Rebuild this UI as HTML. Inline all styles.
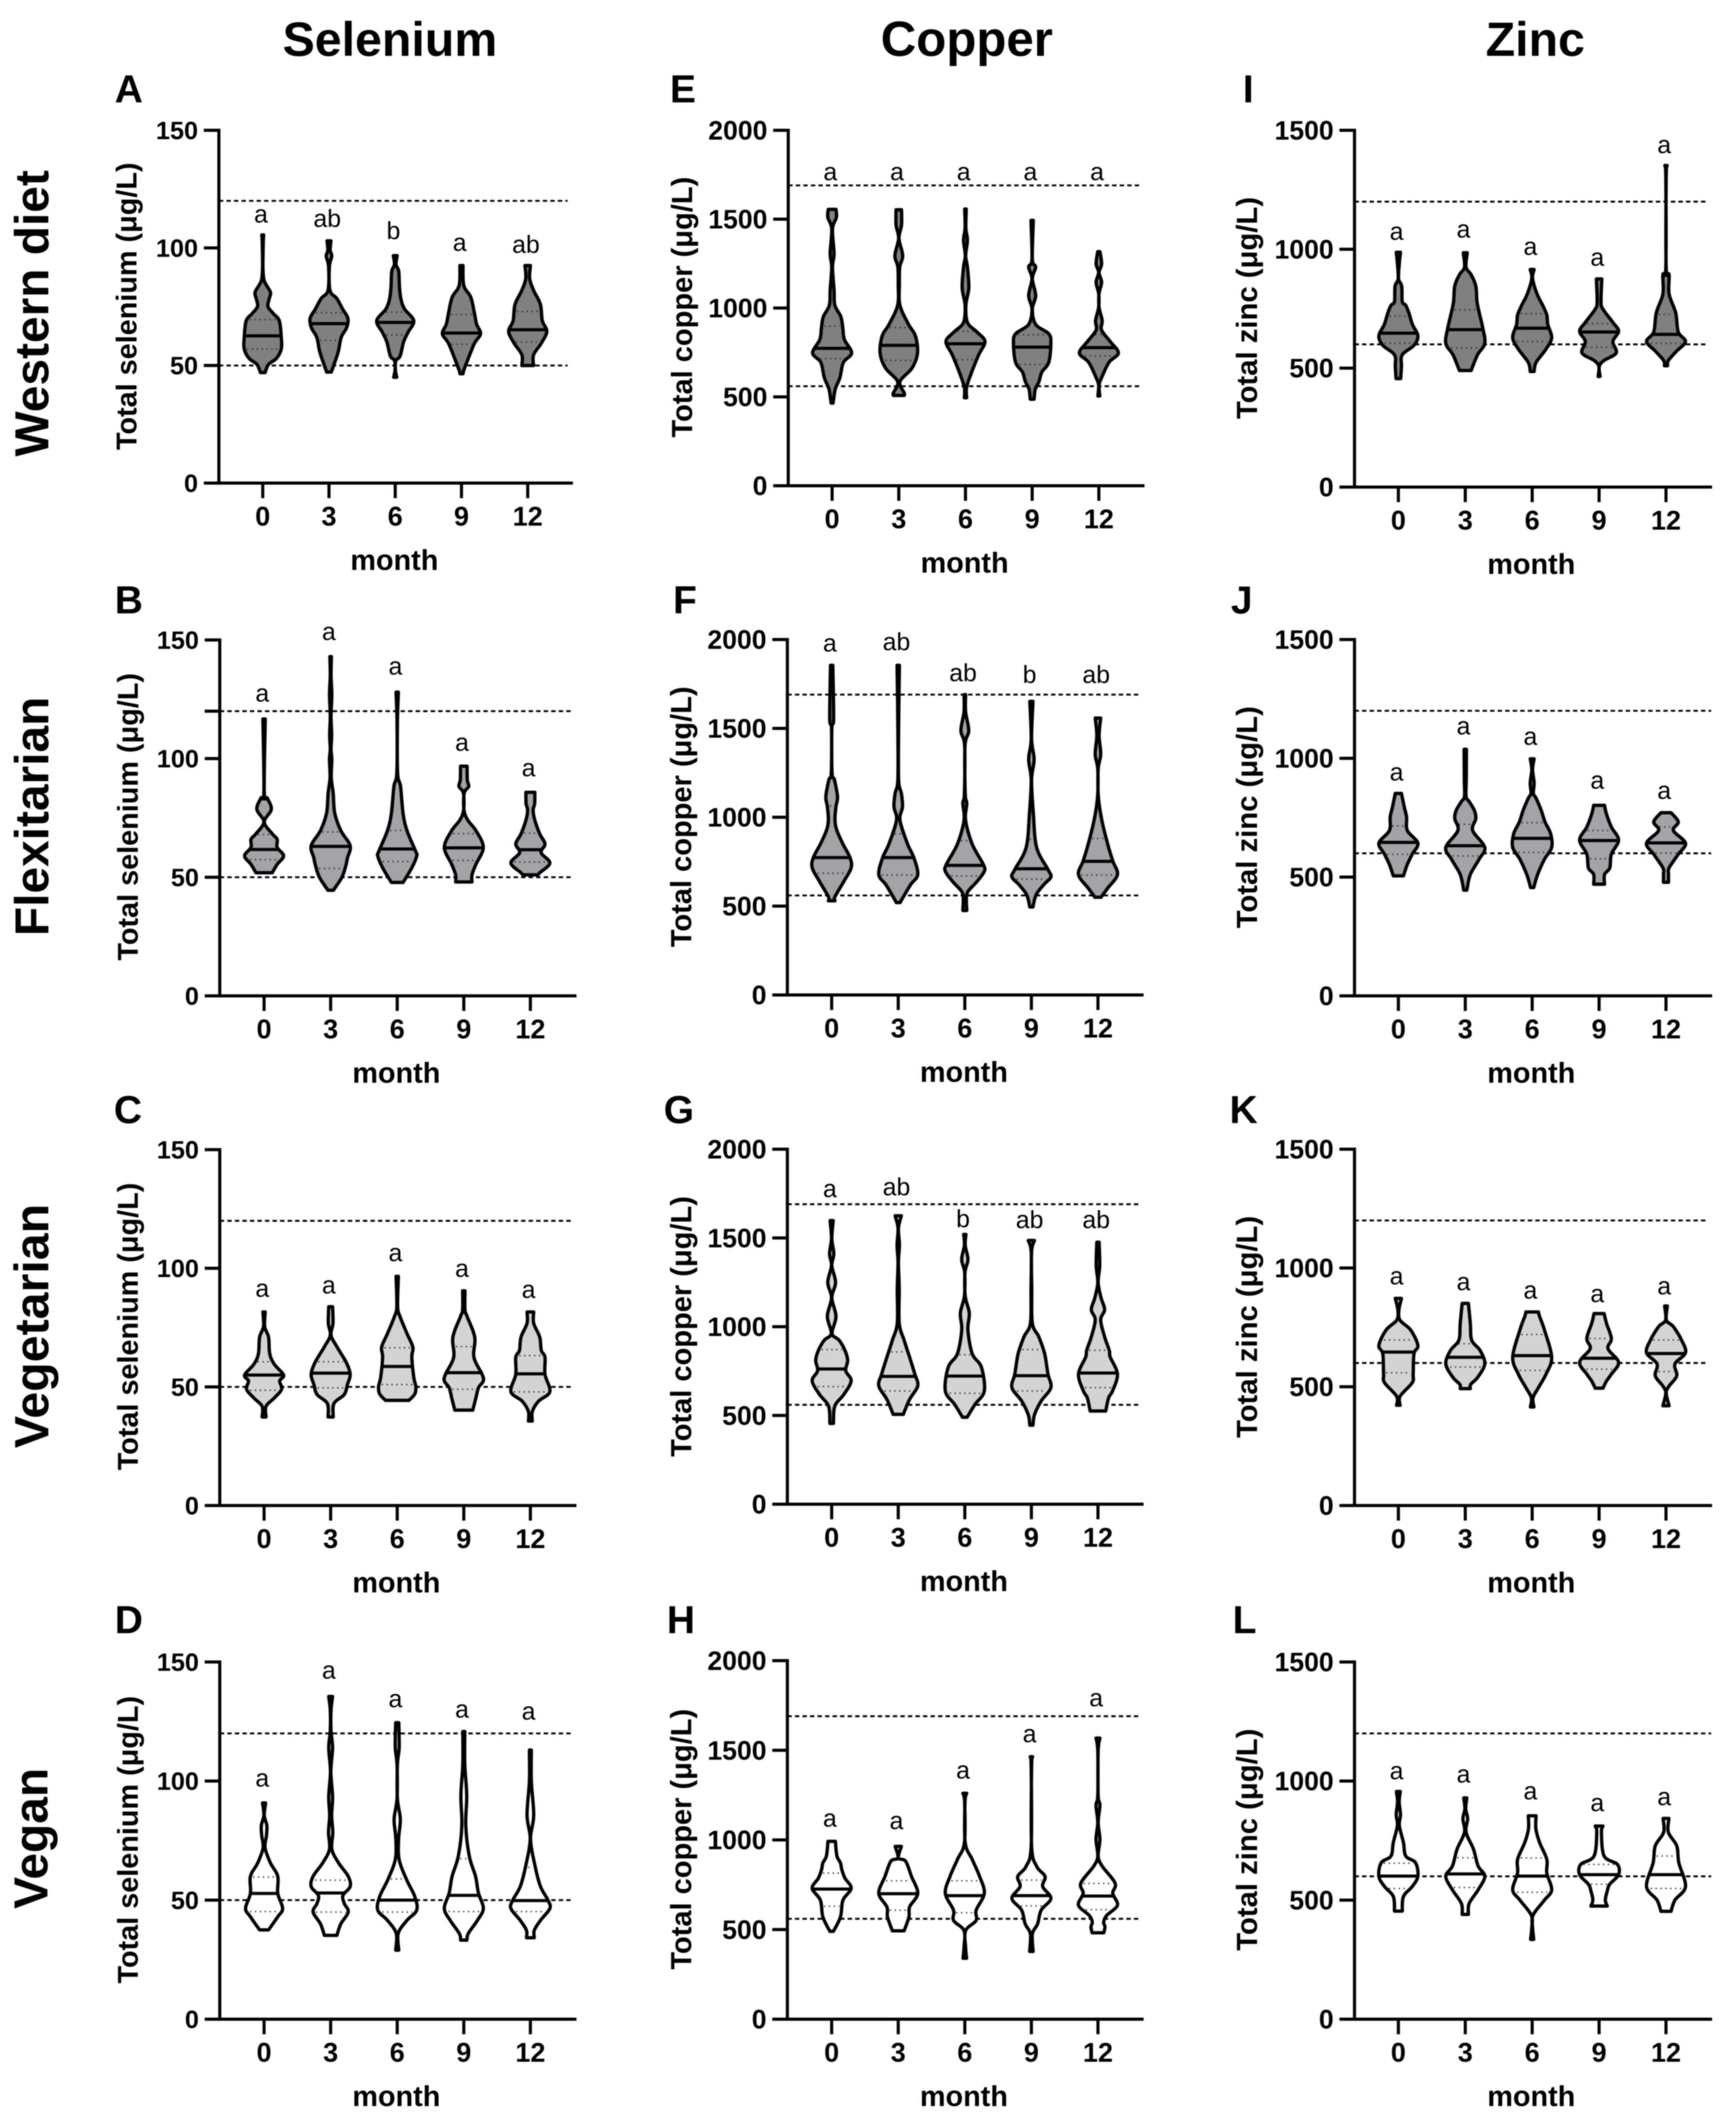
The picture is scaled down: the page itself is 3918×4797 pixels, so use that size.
<!DOCTYPE html>
<html lang="en">
<head>
<meta charset="utf-8">
<title>Selenium, copper and zinc violin plots by diet group</title>
<style>
  html,body{margin:0;padding:0;background:#fff;}
  svg{display:block;filter:blur(1px);}
  text{font-family:"Liberation Sans",Arial,sans-serif;fill:#000;}
</style>
</head>
<body>
<svg id="figure" xmlns="http://www.w3.org/2000/svg" width="3918" height="4797" viewBox="0 0 3918 4797">
  <rect x="0" y="0" width="3918" height="4797" fill="#ffffff"/>
  <text x="880" y="126" font-size="109" font-weight="700" text-anchor="middle">Selenium</text>
  <text x="2182" y="126" font-size="111" font-weight="700" text-anchor="middle">Copper</text>
  <text x="3465" y="126" font-size="109" font-weight="700" text-anchor="middle">Zinc</text>
  <text transform="translate(109 707) rotate(-90)" font-size="108" font-weight="700" text-anchor="middle">Western diet</text>
  <text transform="translate(109 1842) rotate(-90)" font-size="108" font-weight="700" text-anchor="middle">Flexitarian</text>
  <text transform="translate(109 2992) rotate(-90)" font-size="109" font-weight="700" text-anchor="middle">Vegetarian</text>
  <text transform="translate(107 4148) rotate(-90)" font-size="108" font-weight="700" text-anchor="middle">Vegan</text>
</svg>
<script>
// ---------- shared data ----------
const months = [0, 3, 6, 9, 12];
const seleniumTicks = [0, 50, 100, 150];
const copperTicks = [0, 500, 1000, 1500, 2000];
const zincTicks = [0, 500, 1000, 1500];
const seleniumRefs = [50, 120];
const copperRefs = [560, 1690];
const zincRefs = [600, 1200];

// Each violin outline: [value, density] pairs, top to bottom.
// ---------- Panel A ----------
const A_outlines = [
  [[105.5,.5],[103,.3],[92,.1],[86.5,.6],[84,2],[81,4],[78,3.2],[75,2.7],[72,5.5],[69,8.5],[62,9.5],[57,9.5],[53,7],[50.5,3],[47,1.2]],
  [[103,1],[99,.6],[96.5,1.4],[92,.2],[82,.5],[78.5,4],[74,7],[70,9.7],[66,9],[62,6.3],[56,4.8],[51,2.8],[47.2,1.2]],
  [[96.7,1],[93,.4],[90,1.8],[83,2.2],[78,3],[74,4.8],[69,9.5],[64,6.5],[60,4.3],[54,2.5],[52,.3],[48,.1],[45,.8]],
  [[92.5,.8],[84,1.2],[79,4.8],[72,6.7],[67.5,7.8],[63.5,9.8],[59.5,6.7],[53,3.5],[48,1.2],[46.5,.8]],
  [[92.5,1.4],[87,1],[82,3],[76,6.5],[69,7.5],[64.5,9.8],[59.5,7],[54.5,3],[50,3]]
];
const A_medians = [62.6, 67.8, 68.3, 63.8, 65.2];
const A_q1 = [57, 60.7, 63, 59, 60];
const A_q3 = [69.5, 72.4, 72.7, 71.7, 73];
const A_letters = ['a', 'ab', 'b', 'a', 'ab'];
const A_letterValues = [110.8, 108.9, 103.7, 98.7, 97.9];

// ---------- Panel B ----------
const B_outlines = [
  [[116.7,.6],[86,.1],[83.3,1.7],[78.6,3.7],[73.3,.1],[68.3,4.2],[66,6.7],[62.6,6.7],[59,10],[55.4,6.7],[51.9,4.2]],
  [[143,.4],[135,.2],[127,.6],[118,.2],[110,.5],[104,.2],[99.7,.6],[92,.3],[85.4,1.3],[77,2.1],[69.7,5.2],[63.3,10],[58.3,8.7],[54,7.5],[49.7,5.6],[44.5,1.4]],
  [[128,.6],[115,.1],[94,.2],[88.3,1.7],[76.9,3],[69.7,5],[61,9.4],[59,10],[54,7.5],[47.8,3]],
  [[96.8,1.7],[91,1.8],[88.3,2.5],[85.4,.2],[78.3,.1],[74,2.1],[69.7,6.2],[62.6,10],[55.4,6.2],[51,4.2],[48,4.2]],
  [[85.8,2.3],[81,2.2],[78.3,1.4],[74,2.3],[68.3,4.8],[64,7.5],[60.4,5.5],[56,10],[52,5],[51,3.8]]
];
const B_medians = [61.7, 63, 61.9, 62.4, 61.6];
const B_q1 = [57.4, 53.7, 56.6, 57.1, 56.4];
const B_q3 = [68, 69.1, 69.7, 68.4, 68.6];
const B_letters = ['a', 'a', 'a', 'a', 'a'];
const B_letterValues = [124, 150, 135.4, 103.3, 92.6];

// ---------- Panel C ----------
const C_outlines = [
  [[81.6,.6],[75.4,.3],[71,2.3],[64,2.9],[59.6,5.2],[55,10],[52.5,8],[49,9],[45.3,5.2],[41.8,1],[37.3,1]],
  [[83.8,1],[76.8,1.2],[71.8,.2],[66.8,3.3],[60.3,8],[55.3,10],[51,8.6],[46.8,7],[43,1.7],[37.3,1.3]],
  [[96.6,.6],[84,.2],[79.7,1.4],[72.5,5],[66.8,8],[62.5,7.5],[54,8.5],[50,9.6],[47,9],[44.3,6]],
  [[90.5,.6],[82.5,.6],[79.7,1.7],[71,5.6],[62.5,5.2],[55.3,9.4],[52.5,10],[49.6,7.5],[45.3,6.2],[40.2,4.6]],
  [[81.6,1.7],[76.8,1.7],[71,4.8],[65.4,5.6],[62.5,7.5],[55.3,7.5],[48,10],[44,4.2],[39.6,1],[35.6,1]]
];
const C_medians = [55, 55.8, 58.6, 56, 55.5];
const C_q1 = [48.6, 49.6, 51, 49, 47.9];
const C_q3 = [60.6, 60.6, 66.5, 67, 63.2];
const C_letters = ['a', 'a', 'a', 'a', 'a'];
const C_letterValues = [88, 89.4, 103, 96.4, 87.5];

// ---------- Panel D ----------
const D_outlines = [
  [[90.8,.8],[85.6,.1],[81.3,1.4],[77,1.2],[72,.5],[65.7,3.2],[60,7],[52.9,7],[46.5,9.5],[43,7],[37.5,2.3]],
  [[135.5,1],[129.7,.2],[121,.2],[114,1],[104,.1],[93.4,1],[85.6,.5],[78.5,1.1],[71.4,.6],[65.7,4],[60,9],[55.7,10],[52,6.3],[48.6,7],[45,9],[40,5.2],[35.2,3.2]],
  [[124.5,.8],[114,1],[107,.1],[92.7,.1],[84,1.6],[75.6,.7],[67,1],[58.6,4.8],[51.5,9],[45.8,10],[41.5,5],[36,.5],[29,.8]],
  [[120.8,.5],[107,.5],[94,1.5],[81.3,1],[68.5,2.8],[60,6],[53,7.5],[46.5,10],[41.5,7],[36,2.3],[33.2,1.6]],
  [[113,.5],[100,.5],[85.6,1.7],[75.6,.1],[64.3,2.4],[55.7,5.2],[50,9],[46.5,10],[41.5,5.2],[37.3,2],[34.2,2]]
];
const D_medians = [52.8, 53, 50, 52, 49.8];
const D_q1 = [45.2, 45, 45, 45.2, 45.2];
const D_q3 = [59.7, 58.4, 58.9, 67.4, 63.8];
const D_letters = ['a', 'a', 'a', 'a', 'a'];
const D_letterValues = [97.7, 143, 131, 126.6, 125.8];

// ---------- Panel E ----------
const E_outlines = [
  [[1555,2],[1510,2.2],[1445,.2],[1306,1],[1231,.2],[1102,1],[1016,1.4],[951,4.5],[887,5.5],[823,6.3],[747,10],[694,5.8],[608,4],[543,1.6],[465,.5]],
  [[1553,1.4],[1467,1.4],[1392,.1],[1295,2],[1231,.5],[1134,.3],[1016,.6],[908,5],[844,8.5],[747,9.6],[662,6.8],[586,.6],[522,2.8],[508,2.8]],
  [[1557,.4],[1450,.2],[1381,1],[1295,.1],[1231,1],[1113,1.7],[1016,.2],[919,1],[866,5.8],[812,10],[737,6.8],[640,3.2],[554,.6],[495,.6]],
  [[1493,.6],[1274,.1],[1231,1.8],[1166,.1],[1070,1.8],[995,.1],[908,1.8],[855,8.5],[801,9.6],[694,8.5],[640,5],[586,3.5],[543,1.6],[487,1]],
  [[1317,.6],[1248,1.4],[1200,.1],[1145,1.4],[1080,.1],[1005,.1],[930,1.7],[876,1.4],[812,5.8],[747,10],[694,5.2],[608,1.4],[565,.1],[505,.5]]
];
const E_medians = [773, 790, 799, 780, 777];
const E_q1 = [715, 705, 709, 683, 730];
const E_q3 = [898, 890, 870, 850, 850];
const E_letters = ['a', 'a', 'a', 'a', 'a'];
const E_letterValues = [1720, 1720, 1720, 1720, 1720];

// ---------- Panel F ----------
const F_outlines = [
  [[1855,.6],[1555,1],[1500,.1],[1250,.2],[1212,1.4],[1116,3],[1059,2.2],[983,1.7],[925,2.7],[849,5.8],[773,9.4],[716,10],[640,6.3],[553,1.7],[530,1.7]],
  [[1855,.6],[1500,.2],[1212,.2],[1135,1.6],[1059,2.2],[983,.9],[849,4.8],[773,8],[677,10],[620,6.3],[544,2.2],[520,1]],
  [[1690,.4],[1593,.4],[1488,2],[1402,.1],[1135,.2],[1078,1],[983,.4],[849,3.8],[734,9.5],[696,10],[639,6.3],[582,1.6],[540,.8],[475,1]],
  [[1652,.8],[1440,.1],[1326,1.4],[1211,.1],[1021,1],[830,2.7],[706,8.5],[664,10],[620,6.3],[563,2.4],[495,.8]],
  [[1558,1.4],[1460,.6],[1355,1.4],[1269,.1],[1116,.2],[983,2],[849,5],[754,7.6],[677,10],[601,5],[550,1.6]]
];
const F_medians = [773, 773, 729, 710, 752];
const F_q1 = [685, 675, 670, 652, 675];
const F_q3 = [1063, 906, 868, 876, 881];
const F_letters = ['a', 'ab', 'ab', 'b', 'ab'];
const F_letterValues = [1933, 1940, 1765, 1755, 1755];

// ---------- Panel G ----------
const G_outlines = [
  [[1598,.8],[1497,.1],[1411,1.1],[1344,.1],[1249,2],[1163,.1],[1058,2.2],[962,.2],[924,3.8],[867,6.8],[810,8.2],[752,7.2],[695,10],[619,6.3],[552,1.6],[455,.9]],
  [[1625,1.6],[1555,.1],[1459,.6],[1364,.1],[1211,.5],[1020,.5],[924,3],[829,5.8],[733,8.5],[667,10],[590,5.8],[506,2.6]],
  [[1520,.6],[1459,.2],[1379,1.6],[1306,.1],[1173,.2],[1077,2.3],[982,1.6],[848,3.8],[772,8.5],[638,10],[562,5.2],[490,1.2]],
  [[1486,1.6],[1421,.1],[1211,.2],[1020,.5],[943,3.8],[848,6.8],[733,8.5],[657,10],[581,5],[504,1.6],[445,.8]],
  [[1476,.6],[1344,.9],[1249,.1],[1163,1.6],[1096,3.4],[1039,1.4],[943,3.4],[867,5.8],[829,6.3],[733,10],[638,7.5],[600,5.5],[525,4]]
];
const G_medians = [762, 720, 722, 724, 739];
const G_q1 = [663, 638, 625, 638, 657];
const G_q3 = [871, 858, 842, 871, 867];
const G_letters = ['a', 'ab', 'b', 'ab', 'ab'];
const G_letterValues = [1730, 1740, 1560, 1555, 1555];

// ---------- Panel H ----------
const H_outlines = [
  [[992,1.9],[910,2.7],[872,4.5],[834,5.2],[787,6.8],[730,10],[664,5.8],[570,4.5],[490,.9]],
  [[964,1.6],[900,.1],[881,3.8],[796,6.8],[702,10],[626,5.8],[570,5.5],[493,3]],
  [[1260,1],[1211,.1],[985,.2],[891,3.8],[796,7.6],[702,10],[608,5.8],[551,5.8],[494,.4],[400,.4],[340,.9]],
  [[1464,.6],[1400,.1],[966,.1],[853,2.7],[796,7],[740,5.8],[674,10],[608,5],[532,3.2],[475,.5],[378,.9]],
  [[1568,1],[1495,.1],[1249,.1],[1193,1],[1098,.1],[1004,1],[910,.1],[853,2.2],[759,8.8],[702,7.6],[636,10],[579,4.5],[542,2.9],[515,3.6],[482,3]]
];
const H_medians = [726, 700, 689, 689, 687];
const H_q1 = [630, 608, 594, 632, 611];
const H_q3 = [815, 772, 772, 776, 757];
const H_letters = ['a', 'a', 'a', 'a', 'a'];
const H_letterValues = [1074, 1060, 1343, 1545, 1745];

// ---------- Panel I ----------
const I_outlines = [
  [[987,1.1],[950,.6],[877,.1],[845,1.7],[780,2],[764,3.8],[732,5.4],[684,7.2],[636,10],[596,8],[556,2],[507,1.6],[456,1.2]],
  [[985,1],[925,.4],[893,3],[845,5.4],[780,6],[732,7.2],[668,9],[604,10],[556,6.3],[490,3]],
  [[915,1],[877,.2],[812,2.5],[764,5.4],[724,7.5],[684,8],[628,10],[580,7.1],[524,2],[486,1]],
  [[875,1.4],[780,1],[748,2],[692,7.1],[655,10],[612,7.1],[564,8.8],[532,2.5],[507,.1],[465,.5]],
  [[1352,.6],[1300,.1],[925,.1],[893,1.6],[812,1.6],[732,5],[652,6.3],[612,10],[572,5.5],[532,1.2],[510,.8]]
];
const I_medians = [647, 662, 668, 652, 642];
const I_q1 = [605, 585, 612, 588, 604];
const I_q3 = [719, 745, 729, 687, 726];
const I_letters = ['a', 'a', 'a', 'a', 'a'];
const I_letterValues = [1040, 1049, 976, 931, 1404];

// ---------- Panel J ----------
const J_outlines = [
  [[852,1.6],[796,3],[753,4.2],[696,4.6],[643,10],[596,7.1],[553,4.6],[505,2.6]],
  [[1038,.6],[910,.5],[840,.4],[818,2],[782,4.6],[746,5.4],[696,3.8],[625,10],[575,7.1],[511,2.6],[445,.8]],
  [[998,1],[953,.2],[896,1],[853,.6],[832,2],[782,4.6],[732,6.6],[682,9.5],[625,10],[575,6.3],[511,2.8],[456,.8]],
  [[802,2.8],[768,3.7],[711,6.3],[656,10],[596,6.3],[539,5.5],[511,2.8],[470,2.8]],
  [[771,2.6],[732,6.3],[696,3.8],[643,10],[596,6.3],[539,1.6],[511,1.3],[478,1.3]]
];
const J_medians = [646, 632, 663, 654, 644];
const J_q1 = [596, 589, 604, 577, 601];
const J_q3 = [715, 722, 729, 696, 711];
const J_letters = ['a', 'a', 'a', 'a', 'a'];
const J_letterValues = [907, 1101, 1057, 872, 829];

// ---------- Panel K ----------
const K_outlines = [
  [[872,1.6],[824,.3],[781,.8],[739,6.3],[674,10],[639,8],[553,7.6],[517,7.1],[460,.9],[422,.9]],
  [[851,1.6],[767,2.6],[696,3.3],[653,7.6],[596,10],[539,6.3],[510,2.8],[492,2.6]],
  [[815,3.2],[796,3.8],[739,6.3],[624,10],[553,7.1],[496,3.2],[453,.4],[415,.9]],
  [[808,2.6],[767,3.8],[703,6.3],[660,4.6],[603,10],[553,6.3],[524,3.8],[494,2]],
  [[840,.7],[781,.2],[753,3.8],[696,8],[643,10],[596,4.6],[546,5.5],[503,1.6],[474,.1],[420,1.6]]
];
const K_medians = [646, 624, 631, 620, 640];
const K_q1 = [559, 583, 569, 574, 564];
const K_q3 = [697, 681, 720, 703, 697];
const K_letters = ['a', 'a', 'a', 'a', 'a'];
const K_letterValues = [931, 907, 871, 856, 889];

// ---------- Panel L ----------
const L_outlines = [
  [[956,1],[913,.4],[859,1.1],[813,.5],[742,2.6],[685,3.8],[657,8.8],[600,10],[557,7.1],[515,2.6],[454,2]],
  [[929,.8],[884,.2],[842,1.2],[785,.4],[714,4.2],[643,6.6],[600,10],[543,6.6],[486,2],[440,1.6]],
  [[854,2],[799,1.9],[742,3.8],[671,7.5],[614,7.5],[543,10],[500,6.3],[436,.4],[385,.2],[335,.8]],
  [[811,2],[785,1.2],[685,2.6],[650,9.4],[607,10],[567,5.5],[539,4.2],[500,3.2],[475,4.2]],
  [[843,1.5],[785,1.2],[728,5.5],[657,6.6],[557,10],[500,4.6],[453,2.6]]
];
const L_medians = [601, 610, 601, 607, 607];
const L_q1 = [549, 553, 533, 567, 549];
const L_q3 = [655, 678, 677, 650, 685];
const L_letters = ['a', 'a', 'a', 'a', 'a'];
const L_letterValues = [1008, 994, 923, 874, 899];

// ---------- layout (geometry only) ----------
const ROW_FILLS = ['#808080', '#a3a3a6', '#d3d3d3', '#ffffff'];
const COLUMN_STYLE = [
  { title: 'Total selenium (\u03bcg/L)', ticks: seleniumTicks, refs: seleniumRefs, tickFont: 57, titleFont: 65 },
  { title: 'Total copper (\u03bcg/L)', ticks: copperTicks, refs: copperRefs, tickFont: 60, titleFont: 65.5 },
  { title: 'Total zinc (\u03bcg/L)', ticks: zincTicks, refs: zincRefs, tickFont: 60, titleFont: 66 }
];
const PANELS = [
  { id:'A', col:0, row:0, outlines:A_outlines, med:A_medians, q1:A_q1, q3:A_q3, letters:A_letters, lv:A_letterValues, ax:494, xA:593, xB:1191, xEnd:1293, top:294, zero:1090, refEnd:1281, tx:308, ty:691, lx:259, ly:231 },
  { id:'B', col:0, row:1, outlines:B_outlines, med:B_medians, q1:B_q1, q3:B_q3, letters:B_letters, lv:B_letterValues, ax:496, xA:596, xB:1197, xEnd:1301, top:1444, zero:2247, refEnd:1290, tx:311, ty:1843, lx:259, ly:1384, stubTick:120 },
  { id:'C', col:0, row:2, outlines:C_outlines, med:C_medians, q1:C_q1, q3:C_q3, letters:C_letters, lv:C_letterValues, ax:496, xA:596, xB:1197, xEnd:1301, top:2594, zero:3397, refEnd:1290, tx:311, ty:2993, lx:257, ly:2534 },
  { id:'D', col:0, row:3, outlines:D_outlines, med:D_medians, q1:D_q1, q3:D_q3, letters:D_letters, lv:D_letterValues, ax:496, xA:596, xB:1197, xEnd:1301, top:3750, zero:4556, refEnd:1290, tx:311, ty:4151, lx:259, ly:3685 },
  { id:'E', col:1, row:0, outlines:E_outlines, med:E_medians, q1:E_q1, q3:E_q3, letters:E_letters, lv:E_letterValues, ax:1779, xA:1878, xB:2480, xEnd:2583, top:294, zero:1096, refEnd:2571, tx:1562, ty:693, lx:1512, ly:231 },
  { id:'F', col:1, row:1, outlines:F_outlines, med:F_medians, q1:F_q1, q3:F_q3, letters:F_letters, lv:F_letterValues, ax:1777, xA:1877, xB:2478, xEnd:2581, top:1443, zero:2245, refEnd:2569, tx:1560, ty:1843, lx:1519, ly:1384 },
  { id:'G', col:1, row:2, outlines:G_outlines, med:G_medians, q1:G_q1, q3:G_q3, letters:G_letters, lv:G_letterValues, ax:1777, xA:1877, xB:2478, xEnd:2581, top:2593, zero:3394, refEnd:2569, tx:1560, ty:2993, lx:1498, ly:2534 },
  { id:'H', col:1, row:3, outlines:H_outlines, med:H_medians, q1:H_q1, q3:H_q3, letters:H_letters, lv:H_letterValues, ax:1777, xA:1877, xB:2478, xEnd:2581, top:3747, zero:4556, refEnd:2569, tx:1560, ty:4150, lx:1505, ly:3685 },
  { id:'I', col:2, row:0, outlines:I_outlines, med:I_medians, q1:I_q1, q3:I_q3, letters:I_letters, lv:I_letterValues, ax:3057, xA:3156, xB:3760, xEnd:3864, top:294, zero:1099, refEnd:3851, tx:2837, ty:695, lx:2805, ly:231 },
  { id:'J', col:2, row:1, outlines:J_outlines, med:J_medians, q1:J_q1, q3:J_q3, letters:J_letters, lv:J_letterValues, ax:3057, xA:3156, xB:3760, xEnd:3864, top:1443, zero:2247, refEnd:3862, tx:2837, ty:1844, lx:2778, ly:1384 },
  { id:'K', col:2, row:2, outlines:K_outlines, med:K_medians, q1:K_q1, q3:K_q3, letters:K_letters, lv:K_letterValues, ax:3057, xA:3156, xB:3760, xEnd:3864, top:2593, zero:3397, refEnd:3851, tx:2837, ty:2994, lx:2775, ly:2534 },
  { id:'L', col:2, row:3, outlines:L_outlines, med:L_medians, q1:L_q1, q3:L_q3, letters:L_letters, lv:L_letterValues, ax:3057, xA:3156, xB:3760, xEnd:3864, top:3750, zero:4556, refEnd:3862, tx:2837, ty:4151, lx:2782, ly:3685 }
];

const SVG_NS = 'http://www.w3.org/2000/svg';
const figure = document.getElementById('figure');
const DENSITY_PX = 4.4;
const TICK_LEN = 34;
const AXIS_W = 7;
const VIOLIN_W = 7.5;
const MEDIAN_W = 7;
const X_TICK_FONT = 61;
const X_TITLE_FONT = 65;

function addLine(parent, x1, y1, x2, y2, width, dash, color) {
  const l = document.createElementNS(SVG_NS, 'line');
  l.setAttribute('x1', x1);
  l.setAttribute('y1', y1);
  l.setAttribute('x2', x2);
  l.setAttribute('y2', y2);
  l.setAttribute('stroke', color || '#000');
  l.setAttribute('stroke-width', width);
  if (dash) l.setAttribute('stroke-dasharray', dash);
  parent.appendChild(l);
  return l;
}
function addText(parent, str, x, y, size, weight, anchor) {
  const t = document.createElementNS(SVG_NS, 'text');
  t.setAttribute('x', x);
  t.setAttribute('y', y);
  t.setAttribute('font-size', size);
  t.setAttribute('font-weight', weight);
  t.setAttribute('text-anchor', anchor);
  t.textContent = str;
  parent.appendChild(t);
  return t;
}
function densityAt(profile, v) {
  for (let i = 0; i < profile.length - 1; i++) {
    const a = profile[i], b = profile[i + 1];
    if (v <= a[0] && v >= b[0]) {
      const f = (a[0] - v) / (a[0] - b[0] || 1);
      return a[1] + (b[1] - a[1]) * f;
    }
  }
  return 0;
}
function smoothSide(pts) {
  let d = '';
  for (let i = 0; i < pts.length - 1; i++) {
    const p0 = pts[i - 1] || pts[i], p1 = pts[i], p2 = pts[i + 1], p3 = pts[i + 2] || p2;
    const c1x = p1[0] + (p2[0] - p0[0]) / 6, c1y = p1[1] + (p2[1] - p0[1]) / 6;
    const c2x = p2[0] - (p3[0] - p1[0]) / 6, c2y = p2[1] - (p3[1] - p1[1]) / 6;
    d += ' C' + c1x.toFixed(1) + ' ' + c1y.toFixed(1) + ' ' + c2x.toFixed(1) + ' ' + c2y.toFixed(1) + ' ' + p2[0].toFixed(1) + ' ' + p2[1].toFixed(1);
  }
  return d;
}

PANELS.forEach(function (p) {
  const key = p.id.toLowerCase();
  const style = COLUMN_STYLE[p.col];
  const maxV = style.ticks[style.ticks.length - 1];
  const yScale = function (v) { return p.zero - (v / maxV) * (p.zero - p.top); };
  const xScale = function (m) { return p.xA + (m / months[months.length - 1]) * (p.xB - p.xA); };
  const rowFill = ROW_FILLS[p.row];

  const g = document.createElementNS(SVG_NS, 'g');
  
  
  figure.appendChild(g);

  const panelLetter = addText(g, p.id, p.lx, p.ly, 88, 700, 'start');
  
  

  const yTitle = addText(g, style.title, 0, 0, style.titleFont, 700, 'middle');
  yTitle.setAttribute('transform', 'translate(' + p.tx + ' ' + p.ty + ') rotate(-90)');
  
  

  style.refs.forEach(function (r) {
    const ref = addLine(g, p.ax, yScale(r), p.refEnd, yScale(r), 4.2, '10 7');
    
    
  });

  p.outlines.forEach(function (profile, i) {
    const cx = xScale(months[i]);
    const right = profile.map(function (q) { return [cx + q[1] * DENSITY_PX, yScale(q[0])]; });
    const left = profile.map(function (q) { return [cx - q[1] * DENSITY_PX, yScale(q[0])]; }).reverse();
    let d = 'M' + right[0][0].toFixed(1) + ' ' + right[0][1].toFixed(1) + smoothSide(right);
    d += ' L' + left[0][0].toFixed(1) + ' ' + left[0][1].toFixed(1) + smoothSide(left) + ' Z';

    const shape = document.createElementNS(SVG_NS, 'path');
    shape.setAttribute('d', d);
    shape.setAttribute('fill', rowFill);
    shape.setAttribute('stroke', '#000');
    shape.setAttribute('stroke-width', VIOLIN_W);
    shape.setAttribute('stroke-linejoin', 'round');
    
    
    g.appendChild(shape);

    const hwQ3 = densityAt(profile, p.q3[i]) * DENSITY_PX;
    const q3Line = addLine(g, cx - hwQ3 + 6, yScale(p.q3[i]), cx + hwQ3 - 6, yScale(p.q3[i]), 3, '3 8', '#2b2b2b');
    
    

    const hwQ1 = densityAt(profile, p.q1[i]) * DENSITY_PX;
    const q1Line = addLine(g, cx - hwQ1 + 6, yScale(p.q1[i]), cx + hwQ1 - 6, yScale(p.q1[i]), 3, '3 8', '#2b2b2b');
    
    

    const hwMed = densityAt(profile, p.med[i]) * DENSITY_PX;
    const medLine = addLine(g, cx - hwMed, yScale(p.med[i]), cx + hwMed, yScale(p.med[i]), MEDIAN_W);
    
    

    const sig = addText(g, p.letters[i], cx - 4, yScale(p.lv[i]), 56, 400, 'middle');
    
    
  });

  const yAxis = addLine(g, p.ax, p.top - AXIS_W / 2, p.ax, p.zero + AXIS_W / 2, AXIS_W);
  
  

  const xAxis = addLine(g, p.ax - TICK_LEN, p.zero, p.xEnd, p.zero, AXIS_W);
  
  

  style.ticks.forEach(function (tv) {
    const tick = addLine(g, p.ax - TICK_LEN, yScale(tv), p.ax, yScale(tv), AXIS_W);
    
    
    const lab = addText(g, String(tv), p.ax - 47, yScale(tv) + style.tickFont * 0.35, style.tickFont, 700, 'end');
    
    
  });

  if (p.stubTick) {
    const stub = addLine(g, p.ax - TICK_LEN, yScale(p.stubTick), p.ax, yScale(p.stubTick), AXIS_W);
    
    
  }

  months.forEach(function (m) {
    const tick = addLine(g, xScale(m), p.zero, xScale(m), p.zero + TICK_LEN, AXIS_W);
    
    
    const lab = addText(g, String(m), xScale(m), p.zero + 96, X_TICK_FONT, 700, 'middle');
    
    
  });

  const xTitle = addText(g, 'month', xScale(months[2]) - 2, p.zero + 196, X_TITLE_FONT, 700, 'middle');
  
  
});
</script>
</body>
</html>
